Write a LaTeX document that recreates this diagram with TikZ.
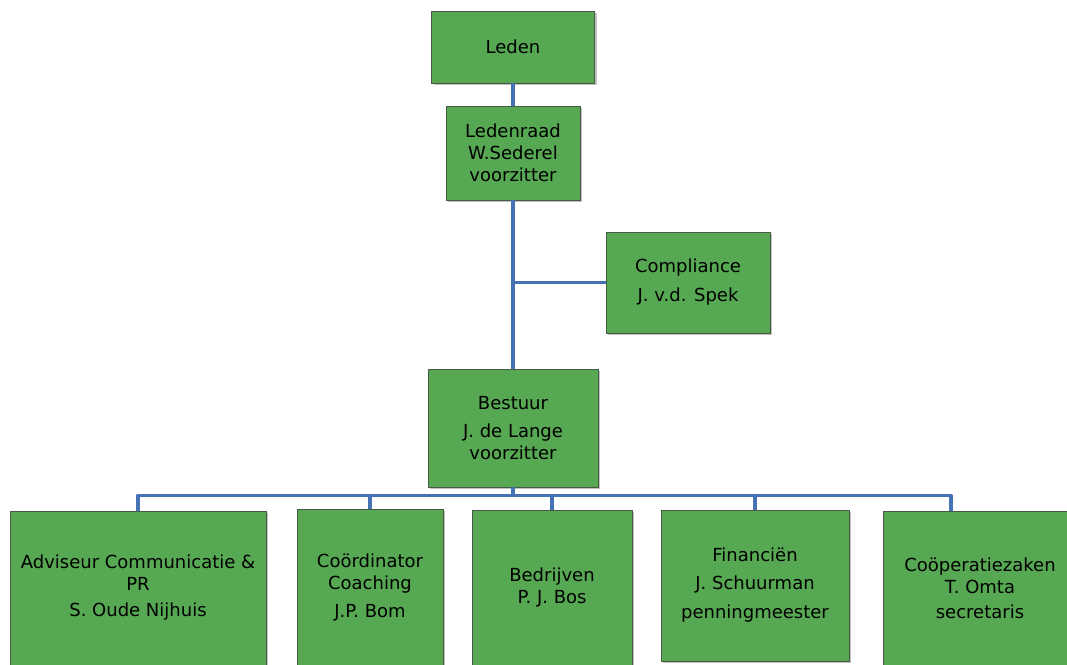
\documentclass[tikz,border=0pt]{standalone}
\usepackage{fontspec}
\setmainfont{DejaVu Sans}
\usetikzlibrary{shadows}

\definecolor{boxgreen}{RGB}{86,168,82}
\definecolor{boxedge}{RGB}{70,90,70}
\definecolor{linkblue}{RGB}{69,114,180}

\begin{document}
\begin{tikzpicture}[x=1pt, y=-1pt, font=\fontsize{18}{22}\selectfont,
  box/.style={draw=boxedge, line width=0.8pt, fill=boxgreen, align=center, inner sep=0pt,
    drop shadow={shadow xshift=2pt, shadow yshift=-2pt, fill=black!40, opacity=0.6}},
  link/.style={draw=linkblue, line width=3.8pt, line join=round}]

\useasboundingbox (0,0) rectangle (1067,664);

% ==== Top of the chart ====
\node[box, minimum width=163, minimum height=72] (leden) at (513,47) {Leden};
\node[box, minimum width=134, minimum height=94] (ledenraad) at (513,153) {Ledenraad\\W.Sederel\\voorzitter};
\node[box, minimum width=164, minimum height=101] (compliance) at (688,282.5) {Compliance\\[7pt]J. v.d. Spek};
\node[box, minimum width=170, minimum height=118] (bestuur) at (513,428) {Bestuur\\[6pt]J. de Lange\\voorzitter};

% ==== Bottom row ====
\foreach \name/\x/\y/\w/\h/\txt in {
    advis/138/588/256/154/{Adviseur Communicatie \&\\PR\\[4pt]S. Oude Nijhuis},
    coord/370/587/146/156/{Coördinator\\Coaching\\[6pt]J.P. Bom},
    bedr/552/587.5/160/155/{Bedrijven\\P. J. Bos},
    fin/755/585.5/188/151/{Financiën\\[6pt]J. Schuurman\\[7pt]penningmeester},
    coop/980/588/194/154/{Coöperatiezaken\\T. Omta\\[3pt]secretaris}}
    \node[box, minimum width=\w, minimum height=\h] (\name) at (\x,\y) {\txt};

% ==== Connectors ====
\draw[link] (leden) -- (ledenraad);
\draw[link] (ledenraad) -- (bestuur);
\draw[link] (ledenraad.south |- compliance.west) -- (compliance.west);

% bus from Bestuur to the row below
\foreach \c in {advis, coord, bedr, fin}
    \draw[link] (bestuur.south) -- ++(0,8) -| (\c.north);
\draw[link] (bestuur.south) -- ++(0,8) -| ([xshift=-29pt]coop.north);

\end{tikzpicture}
\end{document}
